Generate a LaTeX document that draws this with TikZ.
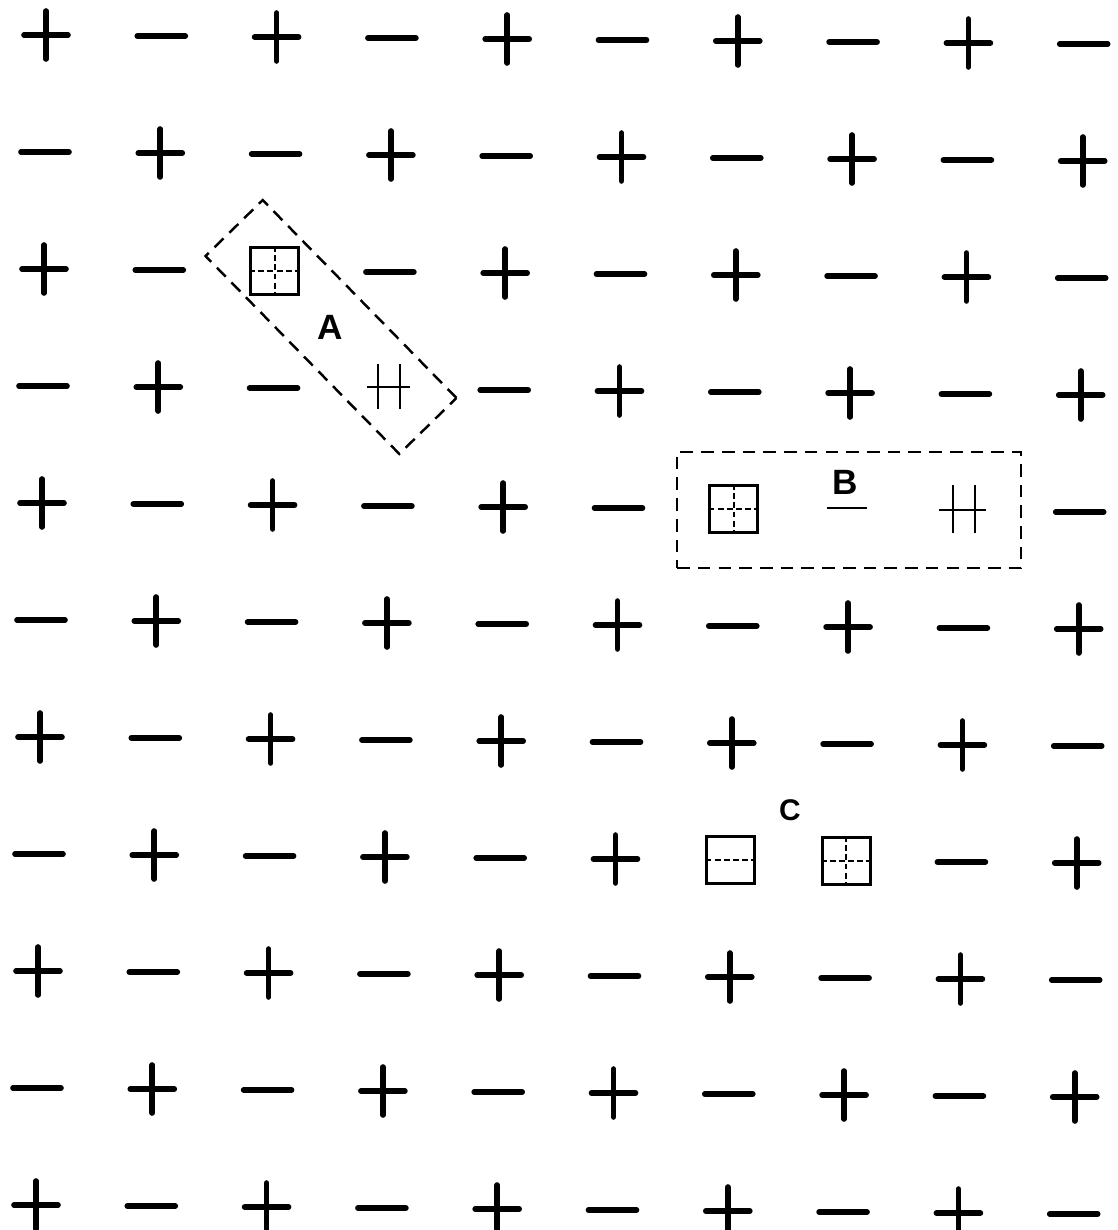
\documentclass[tikz,border=0pt]{standalone}
\usepackage{fontspec}
\setsansfont{Liberation Sans}
\tikzset{
  sign/.style={line width=3.2pt,line cap=round},
  thinsign/.style={line width=1.2pt},
  site/.style={draw,line width=1.6pt,minimum width=0.96cm,minimum height=0.94cm,inner sep=0pt},
  cut/.style={line width=1.1pt,dash pattern=on 3.4pt off 1.8pt},
  group/.style={draw,line width=1.4pt,dash pattern=on 7.2pt off 4.6pt,inner sep=0pt},
  tag/.style={font=\sffamily\bfseries\fontsize{20}{20}\selectfont,inner sep=0pt}
}

\begin{document}
\begin{tikzpicture}[x=0.02cm,y=-0.02cm]
  \useasboundingbox (0,0) rectangle (1117,1230);
  % lattice of charges, the defect sites are left out
  \foreach \r in {0,...,10}{
    \foreach \c in {0,...,9}{
      \coordinate (s\c-\r) at ({46+115.3*\c-\r},{35+117*\r+\c});
      \pgfmathtruncatemacro\k{10*\r+\c}
      \pgfmathtruncatemacro\defect{(\k==22)||(\k==33)||(\k==46)||(\k==47)||(\k==48)||(\k==76)||(\k==77)}
      \pgfmathtruncatemacro\odd{mod(\r+\c,2)}
      \ifnum\defect=0
        \ifnum\odd=0
          \draw[sign] (s\c-\r) ++(-22,0) -- ++(44,0) (s\c-\r) ++(0,-24) -- ++(0,48);
        \else
          \draw[sign] (s\c-\r) ++(-24,0) -- ++(48,0);
        \fi
      \fi
    }
  }
  % vacancies
  \node[site] (vA) at (s2-2) {};
  \draw[cut] (vA.north) -- (vA.south) (vA.west) -- (vA.east);
  \node[site] (vB) at (s6-4) {};
  \draw[cut] (vB.north) -- (vB.south) (vB.west) -- (vB.east);
  \node[site] (vC1) at (s6-7) {};
  \draw[cut] (vC1.west) -- (vC1.east);
  \node[site] (vC2) at (s7-7) {};
  \draw[cut] (vC2.north) -- (vC2.south) (vC2.west) -- (vC2.east);
  % interstitials
  \draw[thinsign] (s3-3) ++(-11,-25) -- ++(0,45) (s3-3) ++(11,-25) -- ++(0,45)
    (s3-3) ++(-22,-2) -- ++(43,0);
  \draw[thinsign] (s8-4) ++(-11,-26) -- ++(0,48) (s8-4) ++(11,-26) -- ++(0,48)
    (s8-4) ++(-25,-1) -- ++(47,0);
  \draw[thinsign] (s7-4) ++(-22,-2) -- ++(40,0);
  % labels and groups
  \node[tag] (labA) at (330,327) {A};
  \node[tag] (labB) at (845,482) {B};
  \node[tag,font=\sffamily\bfseries\fontsize{17}{17}\selectfont] (labC) at (790,810) {C};
  \node[group,rotate=-45.6,minimum width=5.54cm,minimum height=1.6cm] (grpA) at (331,327) {};
  \node[group,minimum width=6.88cm,minimum height=2.32cm] (grpB) at (849,510) {};
\end{tikzpicture}
\end{document}
